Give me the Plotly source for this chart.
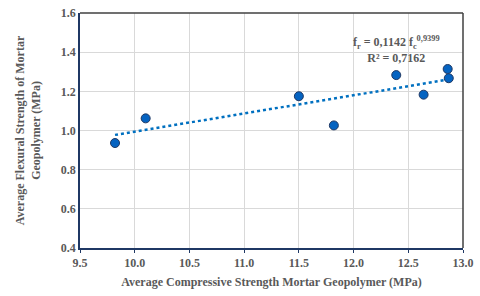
import numpy as np
import plotly.graph_objects as go

# Data
compressive = [9.82, 10.10, 11.50, 11.82, 12.39, 12.64, 12.86, 12.87]
flexural = [0.936, 1.062, 1.175, 1.026, 1.283, 1.183, 1.314, 1.267]

# Power trendline coefficients shown on the chart
coef_a = 0.1142
coef_b = 0.9399

x_ticks = [9.5, 10.0, 10.5, 11.0, 11.5, 12.0, 12.5, 13.0]
y_ticks = [0.4, 0.6, 0.8, 1.0, 1.2, 1.4, 1.6]

tx = np.linspace(min(compressive), max(compressive), 60)
ty = coef_a * tx ** coef_b

font_fam = "Liberation Serif, Times New Roman, serif"
gray = "#595959"

fig = go.Figure()
fig.add_trace(go.Scatter(
    x=tx, y=ty, mode="lines",
    line=dict(color="#0070C0", width=2.5, dash="dot"),
    showlegend=False, hoverinfo="skip"))
fig.add_trace(go.Scatter(
    x=compressive, y=flexural, mode="markers",
    marker=dict(size=9, color="#0563C1", line=dict(color="#1F3864", width=1)),
    showlegend=False))

fig.add_annotation(
    x=12.39, y=1.415, xref="x", yref="y",
    text="<b>f<sub>r</sub> = 0,1142 f<sub>c</sub><sup>0,9399</sup><br>R² = 0,7162</b>",
    showarrow=False, font=dict(family=font_fam, size=12, color=gray),
    align="center")

fig.update_layout(
    width=480, height=296,
    margin=dict(l=80, r=17, t=13, b=48, autoexpand=False),
    paper_bgcolor="white", plot_bgcolor="white",
    font=dict(family=font_fam, color=gray),
    xaxis=dict(
        range=[9.5, 13.0], tickvals=x_ticks,
        ticktext=[f"<b>{v:.1f}</b>" for v in x_ticks],
        tickfont=dict(size=12, color=gray),
        showgrid=True, gridcolor="#D9D9D9", gridwidth=1,
        showline=True, linecolor="#1F3864", linewidth=1.5,
        zeroline=False, ticks="outside", ticklen=3, tickcolor="#1F3864",
        automargin=False,
        title=dict(text="<b>Average Compressive Strength Mortar Geopolymer (MPa)</b>",
                   font=dict(size=12, color=gray), standoff=8),
    ),
    yaxis=dict(
        range=[0.4, 1.6], tickvals=y_ticks,
        ticktext=[f"<b>{v:.1f}</b>" for v in y_ticks],
        tickfont=dict(size=12, color=gray),
        showgrid=True, gridcolor="#D9D9D9", gridwidth=1,
        showline=True, linecolor="#1F3864", linewidth=1.5,
        zeroline=False, ticks="",
        automargin=False,
        title=dict(text="<b>Average Flexural Strength of Mortar<br>Geopolymer (MPa)</b>",
                   font=dict(size=12, color=gray), standoff=18),
    ),
)

# top and right border of plot area
fig.add_shape(type="line", xref="paper", yref="paper", x0=0, x1=1, y0=1, y1=1,
              line=dict(color="#404040", width=1.5))
fig.add_shape(type="line", xref="paper", yref="paper", x0=1, x1=1, y0=0, y1=1,
              line=dict(color="#404040", width=1.5))

fig.write_html("out.html", config={"displayModeBar": False},
               post_script="document.body.style.margin='0';")
